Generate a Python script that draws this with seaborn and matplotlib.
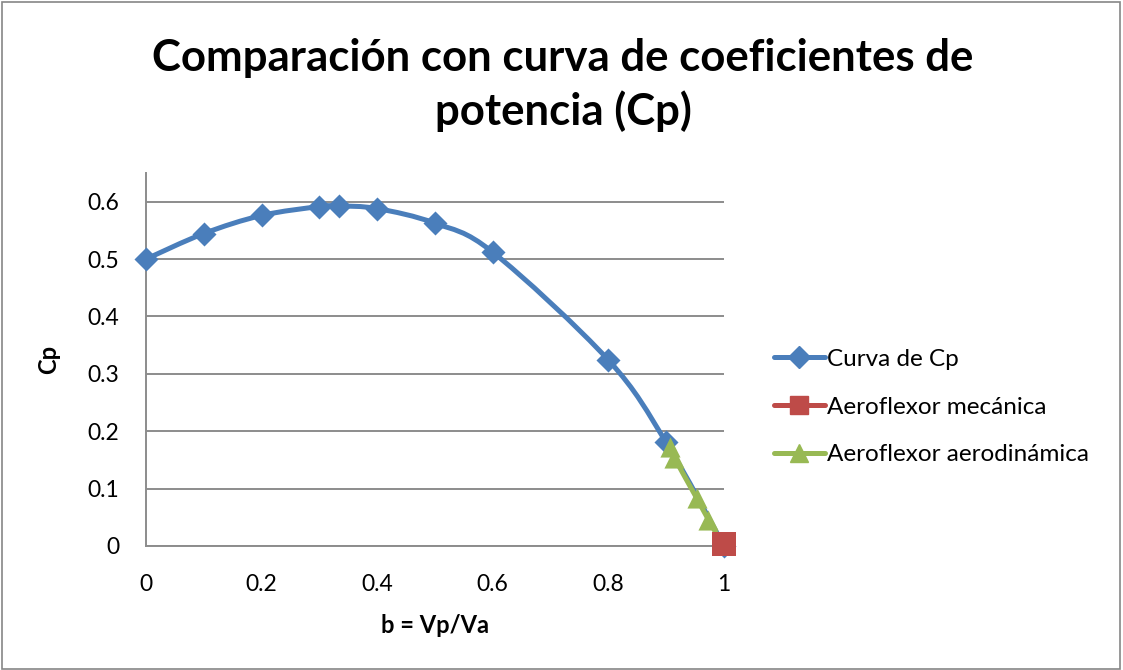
import numpy as np
import pandas as pd
import seaborn as sns
import matplotlib
matplotlib.use("Agg")
import matplotlib.pyplot as plt
from matplotlib.path import Path
from matplotlib.patches import PathPatch, Rectangle
from matplotlib.lines import Line2D

# Power coefficient curve vs. speed ratio b = Vp/Va
b_curve = [0.0, 0.1, 0.2, 0.3, 0.3333, 0.4, 0.5, 0.6, 0.8, 0.9, 1.0]
cp_curve = [0.5, 0.5445, 0.576, 0.5915, 0.5926, 0.588, 0.5625, 0.512, 0.324, 0.1805, 0.0]

# Mechanical aeroflexor operating point
b_mec = [1.0]
cp_mec = [0.004]

# Aerodynamic aeroflexor operating points
b_aero = [0.906, 0.914, 0.953, 0.973, 0.997]
cp_aero = [0.172, 0.154, 0.083, 0.046, 0.004]

series_names = ["Curva de Cp", "Aeroflexor mecánica", "Aeroflexor aerodinámica"]
colors = ["#4A7EBB", "#BE4B48", "#98B954"]

sns.set_theme(style="white")
plt.rcParams["font.family"] = ["Lato", "DejaVu Sans"]
plt.rcParams["text.color"] = "black"
plt.rcParams["axes.labelcolor"] = "black"

fig = plt.figure(figsize=(11.23, 6.70), dpi=100)
ax = fig.add_axes([146 / 1123, 1 - 546 / 670, (724 - 146) / 1123, (546 - 173) / 670])


def smooth_path(xs, ys):
    """Cardinal (Catmull-Rom) Bezier path through the points, like a smoothed line chart."""
    pts = np.column_stack([xs, ys]).astype(float)
    n = len(pts)
    verts = [pts[0]]
    codes = [Path.MOVETO]
    for i in range(n - 1):
        p0 = pts[i - 1] if i > 0 else pts[i]
        p1 = pts[i]
        p2 = pts[i + 1]
        p3 = pts[i + 2] if i + 2 < n else pts[i + 1]
        c1 = p1 + (p2 - p0) / 6.0
        c2 = p2 - (p3 - p1) / 6.0
        verts += [c1, c2, p2]
        codes += [Path.CURVE4] * 3
    return Path(verts, codes)


lw = 3.6
ax.add_patch(PathPatch(smooth_path(b_curve, cp_curve), facecolor="none",
                       edgecolor=colors[0], lw=lw, capstyle="round", zorder=3))
sns.scatterplot(x=b_curve, y=cp_curve, marker="D", s=150, color=colors[0],
                edgecolor=colors[0], linewidth=0, ax=ax, zorder=4, legend=False,
                clip_on=False)

ax.add_patch(PathPatch(smooth_path(b_aero, cp_aero), facecolor="none",
                       edgecolor=colors[2], lw=lw, capstyle="round", zorder=5))
sns.scatterplot(x=b_aero, y=cp_aero, marker="^", s=210, color=colors[2],
                edgecolor=colors[2], linewidth=0, ax=ax, zorder=6, legend=False,
                clip_on=False)

sns.scatterplot(x=b_mec, y=cp_mec, marker="s", s=300, color=colors[1],
                edgecolor=colors[1], linewidth=0, ax=ax, zorder=7, legend=False,
                clip_on=False)

ax.set_xlim(0, 1)
ax.set_ylim(0, 0.65)
ax.set_xticks([0, 0.2, 0.4, 0.6, 0.8, 1.0])
ax.set_xticklabels(["0", "0.2", "0.4", "0.6", "0.8", "1"])
ax.set_yticks([0, 0.1, 0.2, 0.3, 0.4, 0.5, 0.6])
ax.set_yticklabels(["0", "0.1", "0.2", "0.3", "0.4", "0.5", "0.6"])
ax.tick_params(axis="both", length=0, labelsize=16.5, colors="black")
ax.tick_params(axis="x", pad=20)
ax.tick_params(axis="y", pad=19)

grid_c = "#8C8C8C"
ax.grid(axis="y", color=grid_c, lw=1.4)
ax.grid(axis="x", visible=False)
ax.set_axisbelow(True)
for side in ["top", "right"]:
    ax.spines[side].set_visible(False)
for side in ["left", "bottom"]:
    ax.spines[side].set_color(grid_c)
    ax.spines[side].set_linewidth(1.4)
ax.set_facecolor("white")
ax.patch.set_alpha(0)

ax.set_xlabel("b = Vp/Va", fontsize=17, fontweight="bold", labelpad=14, color="black")
ax.set_ylabel("Cp", fontsize=17, fontweight="bold", labelpad=20, color="black")

fig.text(563 / 1123, 1 - 85 / 670, "Comparación con curva de coeficientes de\npotencia (Cp)",
         ha="center", va="center", fontsize=31.5, fontweight="bold", linespacing=1.36,
         color="black")

handles = [
    Line2D([], [], color=colors[0], lw=lw, marker="D", markersize=11),
    Line2D([], [], color=colors[1], lw=lw, marker="s", markersize=13),
    Line2D([], [], color=colors[2], lw=lw, marker="^", markersize=13),
]
leg = fig.legend(handles, series_names, loc="center left",
                 bbox_to_anchor=(752 / 1123, 1 - 407 / 670), frameon=False,
                 fontsize=17.5, handlelength=2.1, handletextpad=0.1, labelspacing=1.1)
for t in leg.get_texts():
    t.set_color("black")

fig.add_artist(Rectangle((0.0015, 0.002), 0.996, 0.995, transform=fig.transFigure,
                         fill=False, edgecolor="#868686", lw=1.2))

fig.savefig("out.png", dpi=100, facecolor="white")
